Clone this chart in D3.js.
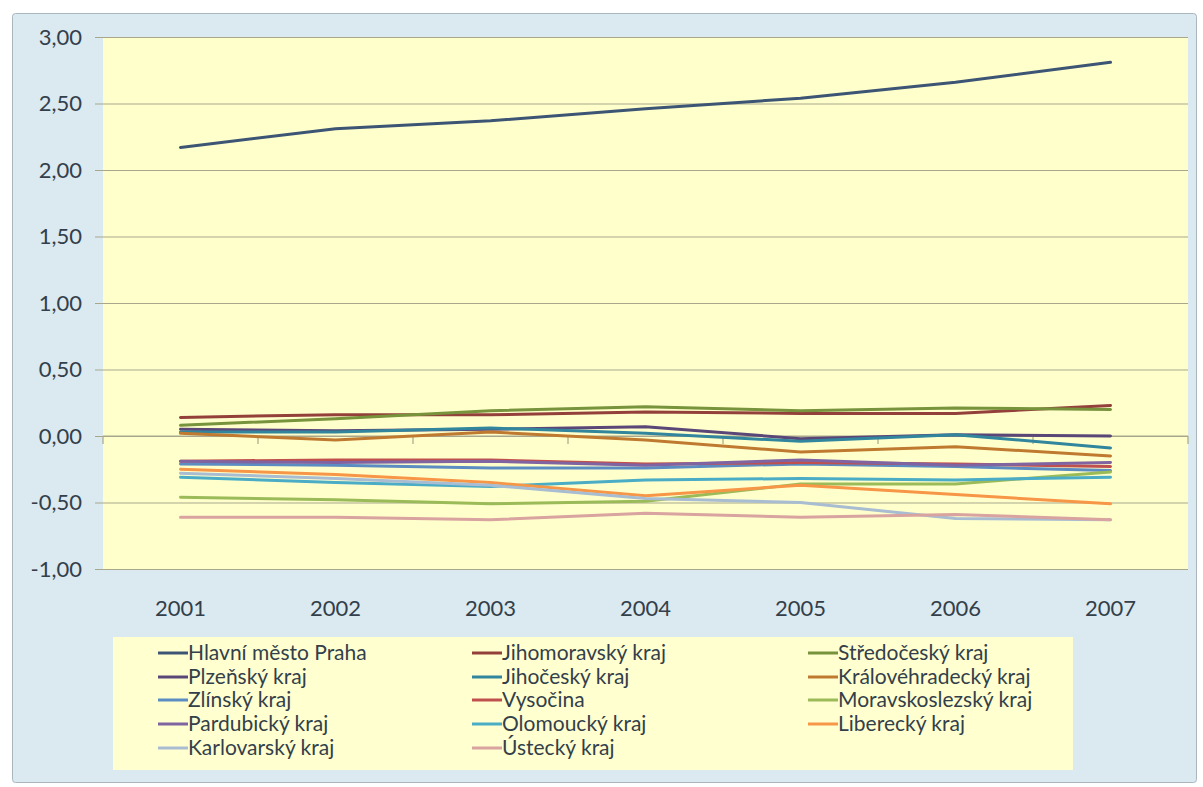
<!DOCTYPE html>
<html>
<head>
<meta charset="utf-8">
<script src="https://cdn.jsdelivr.net/npm/d3@7"></script>
<style>
  html, body { margin: 0; padding: 0; background: #ffffff; }
  svg { display: block; }
  text { font-family: Lato, "Open Sans", sans-serif; fill: #333f4a; }
</style>
</head>
<body>
<svg id="chart" width="1203" height="787"></svg>
<script>
// Years on the category axis
const years = ["2001", "2002", "2003", "2004", "2005", "2006", "2007"];

// Region names (legend order)
const regions = [
  "Hlavní město Praha", "Jihomoravský kraj", "Středočeský kraj",
  "Plzeňský kraj", "Jihočeský kraj", "Královéhradecký kraj",
  "Zlínský kraj", "Vysočina", "Moravskoslezský kraj",
  "Pardubický kraj", "Olomoucký kraj", "Liberecký kraj",
  "Karlovarský kraj", "Ústecký kraj"
];

// Values per region, 2001–2007
const praha           = [2.17, 2.31, 2.37, 2.46, 2.54, 2.66, 2.81];
const jihomoravsky    = [0.14, 0.16, 0.16, 0.18, 0.17, 0.17, 0.23];
const stredocesky     = [0.08, 0.13, 0.19, 0.22, 0.19, 0.21, 0.20];
const plzensky        = [0.05, 0.04, 0.05, 0.07, -0.02, 0.01, 0.00];
const jihocesky       = [0.03, 0.03, 0.06, 0.02, -0.04, 0.01, -0.09];
const kralovehradecky = [0.02, -0.03, 0.03, -0.03, -0.12, -0.08, -0.15];
const zlinsky         = [-0.21, -0.22, -0.24, -0.24, -0.21, -0.23, -0.26];
const vysocina        = [-0.19, -0.18, -0.18, -0.21, -0.20, -0.21, -0.23];
const moravskoslezsky = [-0.46, -0.48, -0.51, -0.49, -0.36, -0.36, -0.27];
const pardubicky      = [-0.19, -0.20, -0.19, -0.22, -0.18, -0.22, -0.20];
const olomoucky       = [-0.31, -0.35, -0.38, -0.33, -0.32, -0.33, -0.31];
const liberecky       = [-0.25, -0.29, -0.35, -0.45, -0.37, -0.44, -0.51];
const karlovarsky     = [-0.28, -0.32, -0.37, -0.47, -0.50, -0.62, -0.63];
const ustecky         = [-0.61, -0.61, -0.63, -0.58, -0.61, -0.59, -0.63];

const seriesValues = [
  praha, jihomoravsky, stredocesky, plzensky, jihocesky, kralovehradecky,
  zlinsky, vysocina, moravskoslezsky, pardubicky, olomoucky, liberecky,
  karlovarsky, ustecky
];

const seriesColors = [
  "#3d5574", "#94403a", "#77933c", "#5a4778", "#31859c", "#bf7a30",
  "#5b8cc2", "#c0504d", "#9bbb59", "#8064a2", "#4bacc6", "#f79646",
  "#a9bdd2", "#d9a3a0"
];

// Value-axis tick labels
const yTicks = [-1, -0.5, 0, 0.5, 1, 1.5, 2, 2.5, 3];

const svg = d3.select("#chart");

// Chart frame
svg.append("rect")
  .attr("x", 12.5).attr("y", 13.5)
  .attr("width", 1184).attr("height", 769)
  .attr("rx", 3)
  .attr("fill", "#dbe9f1")
  .attr("stroke", "#aab6be");

const plot = { left: 103, right: 1188, top: 37, bottom: 569 };

const x = d3.scaleBand().domain(years).range([plot.left, plot.right]).padding(0);
const y = d3.scaleLinear().domain([-1, 3]).range([plot.bottom, plot.top]);

// Plot area
svg.append("rect")
  .attr("x", plot.left).attr("y", plot.top)
  .attr("width", plot.right - plot.left).attr("height", plot.bottom - plot.top)
  .attr("fill", "#ffffcc");

const czLocale = d3.formatLocale({
  decimal: ",", thousands: " ", grouping: [3], currency: ["", " Kč"], minus: "-"
});
const fmt = czLocale.format(".2f");

// Value axis with gridlines
const yAxis = d3.axisLeft(y)
  .tickValues(yTicks)
  .tickFormat(fmt)
  .tickSizeInner(-(plot.right - plot.left + 8))
  .tickSizeOuter(0)
  .tickPadding(13);

const yg = svg.append("g")
  .attr("transform", `translate(${plot.left - 8},0)`)
  .call(yAxis);
yg.select(".domain").remove();
yg.selectAll(".tick line").attr("stroke", "#a8a78c").attr("stroke-width", 1.2);
yg.selectAll(".tick text")
  .attr("font-size", 22)
  .attr("font-family", "Lato, sans-serif")
  .attr("fill", "#333f4a");

// Category axis line at zero, ticks at category boundaries
const edges = years.map(d => x(d)).concat([x.range()[1]]);
svg.append("line")
  .attr("x1", plot.left).attr("x2", plot.right)
  .attr("y1", y(0)).attr("y2", y(0))
  .attr("stroke", "#a8a78c").attr("stroke-width", 1.2);
svg.append("g").selectAll("line")
  .data(edges)
  .join("line")
  .attr("x1", d => d).attr("x2", d => d)
  .attr("y1", y(0)).attr("y2", y(0) + 8)
  .attr("stroke", "#a8a78c").attr("stroke-width", 1.2);

// Category labels below the plot
const xAxis = d3.axisBottom(x).tickSize(0).tickPadding(31);
const xg = svg.append("g")
  .attr("transform", `translate(0,${plot.bottom})`)
  .call(xAxis);
xg.select(".domain").remove();
xg.selectAll(".tick text")
  .attr("font-size", 22)
  .attr("font-family", "Lato, sans-serif")
  .attr("fill", "#333f4a");

// Lines
const line = d3.line()
  .x((d, i) => x(years[i]) + x.bandwidth() / 2)
  .y(d => y(d));

svg.append("g").selectAll("path")
  .data(seriesValues)
  .join("path")
  .attr("d", d => line(d))
  .attr("fill", "none")
  .attr("stroke", (d, i) => seriesColors[i])
  .attr("stroke-width", 3)
  .attr("stroke-linejoin", "round")
  .attr("stroke-linecap", "round");

// Legend
const legend = svg.append("g");
legend.append("rect")
  .attr("x", 113).attr("y", 637)
  .attr("width", 960).attr("height", 133)
  .attr("fill", "#ffffd0");

const colX = [158, 472, 808];
const rowY = [653, 677, 700, 724, 748];

const items = legend.selectAll("g.item")
  .data(regions)
  .join("g")
  .attr("class", "item")
  .attr("transform", (d, i) => `translate(${colX[i % 3]},${rowY[Math.floor(i / 3)]})`);

items.append("line")
  .attr("x1", 0).attr("x2", 30)
  .attr("y1", 0).attr("y2", 0)
  .attr("stroke", (d, i) => seriesColors[i])
  .attr("stroke-width", 3);

items.append("text")
  .attr("x", 30).attr("y", 0).attr("dy", "0.35em")
  .attr("font-size", 21)
  .attr("fill", "#2e3944")
  .text(d => d);
</script>
</body>
</html>
